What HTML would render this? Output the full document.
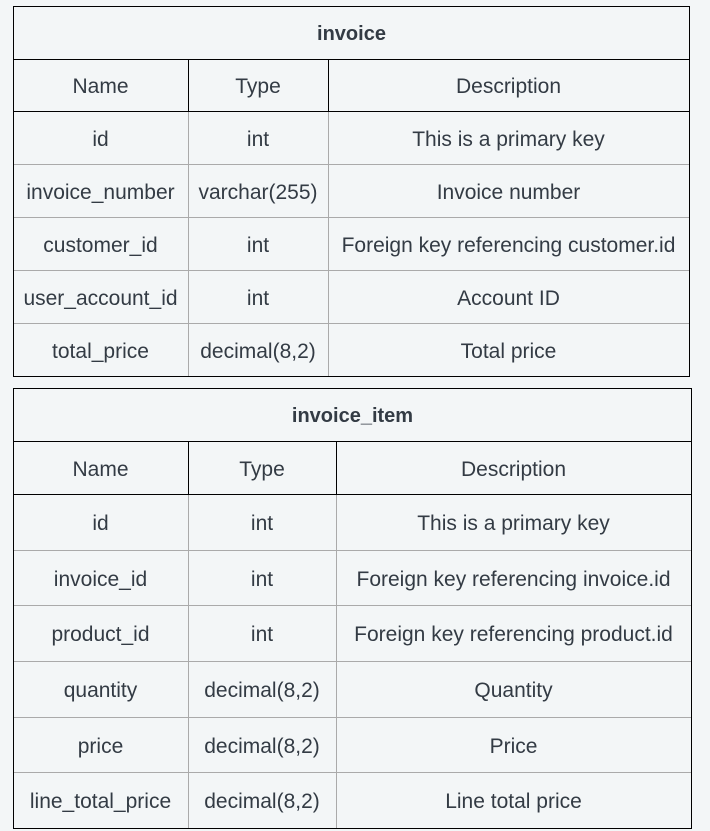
<!DOCTYPE html>
<html><head><style>
body{margin:0;width:710px;height:831px;background:#f3f6f7;position:relative;overflow:hidden;font-family:"Liberation Sans",sans-serif;color:#333b44;font-size:21px}
.c{position:absolute;display:flex;align-items:center;justify-content:center;white-space:nowrap;box-sizing:border-box;padding-top:4px}
.b{font-weight:bold;font-size:20px}
.l{position:absolute;background:#000}
.g{position:absolute;background:#aaa}
.box{position:absolute;border:1px solid #000;box-sizing:border-box}
</style></head><body>
<!-- Table 1 -->
<div class="box" style="left:13px;top:6px;width:677px;height:371px"></div>
<div class="l" style="left:13px;top:59px;width:677px;height:1px"></div>
<div class="l" style="left:13px;top:111px;width:677px;height:1px"></div>
<div class="l" style="left:188px;top:59px;width:1px;height:52px"></div>
<div class="l" style="left:328px;top:59px;width:1px;height:52px"></div>
<div class="g" style="left:188px;top:112px;width:1px;height:264px"></div>
<div class="g" style="left:328px;top:112px;width:1px;height:264px"></div>
<div class="g" style="left:14px;top:164px;width:675px;height:1px"></div>
<div class="g" style="left:14px;top:217px;width:675px;height:1px"></div>
<div class="g" style="left:14px;top:270px;width:675px;height:1px"></div>
<div class="g" style="left:14px;top:323px;width:675px;height:1px"></div>
<div class="c b" style="left:13px;top:6px;width:677px;height:53px">invoice</div>
<div class="c" style="left:13px;top:59px;width:175px;height:52px">Name</div>
<div class="c" style="left:188px;top:59px;width:140px;height:52px">Type</div>
<div class="c" style="left:328px;top:59px;width:361px;height:52px">Description</div>

<div class="c" style="left:13px;top:111px;width:175px;height:53px">id</div>
<div class="c" style="left:188px;top:111px;width:140px;height:53px">int</div>
<div class="c" style="left:328px;top:111px;width:361px;height:53px">This is a primary key</div>
<div class="c" style="left:13px;top:164px;width:175px;height:53px">invoice_number</div>
<div class="c" style="left:188px;top:164px;width:140px;height:53px">varchar(255)</div>
<div class="c" style="left:328px;top:164px;width:361px;height:53px">Invoice number</div>
<div class="c" style="left:13px;top:217px;width:175px;height:53px">customer_id</div>
<div class="c" style="left:188px;top:217px;width:140px;height:53px">int</div>
<div class="c" style="left:328px;top:217px;width:361px;height:53px">Foreign key referencing customer.id</div>
<div class="c" style="left:13px;top:270px;width:175px;height:53px">user_account_id</div>
<div class="c" style="left:188px;top:270px;width:140px;height:53px">int</div>
<div class="c" style="left:328px;top:270px;width:361px;height:53px">Account ID</div>
<div class="c" style="left:13px;top:323px;width:175px;height:53px">total_price</div>
<div class="c" style="left:188px;top:323px;width:140px;height:53px">decimal(8,2)</div>
<div class="c" style="left:328px;top:323px;width:361px;height:53px">Total price</div>

<!-- Table 2 -->
<div class="box" style="left:13px;top:388px;width:679px;height:441px"></div>
<div class="l" style="left:13px;top:441px;width:679px;height:1px"></div>
<div class="l" style="left:13px;top:494px;width:679px;height:1px"></div>
<div class="l" style="left:188px;top:441px;width:1px;height:53px"></div>
<div class="l" style="left:336px;top:441px;width:1px;height:53px"></div>
<div class="g" style="left:188px;top:495px;width:1px;height:333px"></div>
<div class="g" style="left:336px;top:495px;width:1px;height:333px"></div>
<div class="g" style="left:14px;top:550px;width:677px;height:1px"></div>
<div class="g" style="left:14px;top:605px;width:677px;height:1px"></div>
<div class="g" style="left:14px;top:661px;width:677px;height:1px"></div>
<div class="g" style="left:14px;top:717px;width:677px;height:1px"></div>
<div class="g" style="left:14px;top:772px;width:677px;height:1px"></div>
<div class="c b" style="left:13px;top:388px;width:679px;height:53px">invoice_item</div>
<div class="c" style="left:13px;top:441px;width:175px;height:53px">Name</div>
<div class="c" style="left:188px;top:441px;width:148px;height:53px">Type</div>
<div class="c" style="left:336px;top:441px;width:355px;height:53px">Description</div>

<div class="c" style="left:13px;top:494px;width:175px;height:56px">id</div>
<div class="c" style="left:188px;top:494px;width:148px;height:56px">int</div>
<div class="c" style="left:336px;top:494px;width:355px;height:56px">This is a primary key</div>
<div class="c" style="left:13px;top:550px;width:175px;height:55px">invoice_id</div>
<div class="c" style="left:188px;top:550px;width:148px;height:55px">int</div>
<div class="c" style="left:336px;top:550px;width:355px;height:55px">Foreign key referencing invoice.id</div>
<div class="c" style="left:13px;top:605px;width:175px;height:56px">product_id</div>
<div class="c" style="left:188px;top:605px;width:148px;height:56px">int</div>
<div class="c" style="left:336px;top:605px;width:355px;height:56px">Foreign key referencing product.id</div>
<div class="c" style="left:13px;top:661px;width:175px;height:56px">quantity</div>
<div class="c" style="left:188px;top:661px;width:148px;height:56px">decimal(8,2)</div>
<div class="c" style="left:336px;top:661px;width:355px;height:56px">Quantity</div>
<div class="c" style="left:13px;top:717px;width:175px;height:55px">price</div>
<div class="c" style="left:188px;top:717px;width:148px;height:55px">decimal(8,2)</div>
<div class="c" style="left:336px;top:717px;width:355px;height:55px">Price</div>
<div class="c" style="left:13px;top:772px;width:175px;height:56px">line_total_price</div>
<div class="c" style="left:188px;top:772px;width:148px;height:56px">decimal(8,2)</div>
<div class="c" style="left:336px;top:772px;width:355px;height:56px">Line total price</div>
</body></html>
